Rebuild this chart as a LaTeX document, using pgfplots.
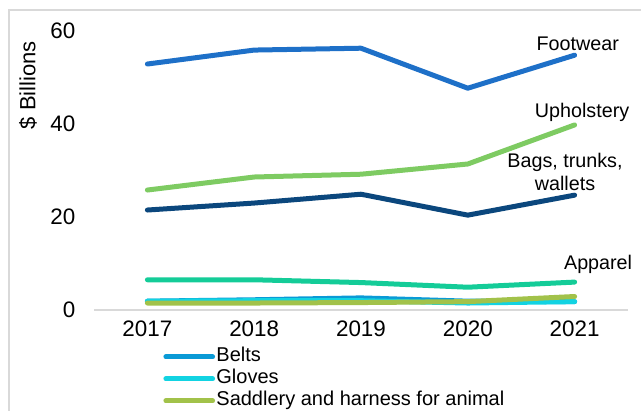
\documentclass[border=0pt]{standalone}
\usepackage{fontspec}
\setmainfont{Liberation Sans}
\usepackage{pgfplots}
\pgfplotsset{compat=1.18}
\definecolor{cFoot}{HTML}{1E70C8}
\definecolor{cUph}{HTML}{7ECB62}
\definecolor{cBags}{HTML}{0B477D}
\definecolor{cApp}{HTML}{14CC98}
\definecolor{cBelt}{HTML}{0A9AD6}
\definecolor{cGlov}{HTML}{12D3E2}
\definecolor{cSadd}{HTML}{A2C24A}
\definecolor{cFrame}{HTML}{D9D9D9}
\begin{document}
\begin{tikzpicture}
\path[use as bounding box] (0pt,0pt) rectangle (480.75pt,307.5pt);
\draw[cFrame, line width=1.2pt] (6.75pt,-20pt) rectangle (500pt,300pt);
\begin{axis}[
  at={(70.5pt,75pt)}, anchor=south west,
  scale only axis, width=400.5pt, height=209.25pt,
  xmin=-0.5, xmax=4.5, ymin=0, ymax=60,
  xtick={0,1,2,3,4}, xticklabels={2017,2018,2019,2020,2021},
  ytick={0,20,40,60},
  axis line style={draw=none},
  major tick length=0pt,
  tick label style={font=\fontsize{16.8}{19}\selectfont},
  /pgf/number format/assume math mode=true,
  xticklabel style={yshift=-4.5pt},
  yticklabel style={xshift=-10.5pt},
  clip=false,
  every axis plot/.append style={line width=3.75pt, line cap=round, line join=round},
  legend style={at={(rel axis cs:0.122,-0.118)}, anchor=north west, draw=none, fill=none,
    font=\fontsize{15}{17}\selectfont, row sep=0pt,
    nodes={inner sep=1.0pt, text height=11pt, text depth=3.5pt}},
  legend cell align=left,
  legend image code/.code={\draw[#1, line width=3.75pt, line cap=round] (0pt,0pt) -- (35pt,0pt);},
]
\draw[cFrame, line width=1.2pt] (rel axis cs:0,0) -- (rel axis cs:1,0);
\addplot[cFoot, forget plot] coordinates {(0,52.9) (1,55.9) (2,56.3) (3,47.7) (4,54.8)};
\addplot[cUph, forget plot] coordinates {(0,25.8) (1,28.6) (2,29.2) (3,31.4) (4,39.8)};
\addplot[cBags, forget plot] coordinates {(0,21.5) (1,23.0) (2,24.9) (3,20.4) (4,24.7)};
\addplot[cApp, forget plot] coordinates {(0,6.5) (1,6.5) (2,5.9) (3,4.9) (4,6.0)};
\addplot[cBelt] coordinates {(0,1.9) (1,2.2) (2,2.6) (3,1.9) (4,1.8)};
\addlegendentry{Belts}
\addplot[cGlov] coordinates {(0,1.9) (1,2.0) (2,2.0) (3,1.5) (4,1.8)};
\addlegendentry{Gloves}
\addplot[cSadd] coordinates {(0,1.5) (1,1.5) (2,1.6) (3,1.8) (4,2.9)};
\addlegendentry{Saddlery and harness for animal}
\node[font=\fontsize{14.8}{17}\selectfont] at (axis cs:4.03,57.2) {Footwear};
\node[font=\fontsize{14.8}{17}\selectfont] at (axis cs:4.07,42.4) {Upholstery};
\node[font=\fontsize{14.8}{17}\selectfont, align=center] at (axis cs:3.91,29.7) {Bags, trunks,\\wallets};
\node[font=\fontsize{14.8}{17}\selectfont] at (axis cs:4.22,9.7) {Apparel};
\node[font=\fontsize{16.5}{19}\selectfont, rotate=90] at (rel axis cs:-0.1236,0.806) {\$ Billions};
\end{axis}
\end{tikzpicture}
\end{document}
